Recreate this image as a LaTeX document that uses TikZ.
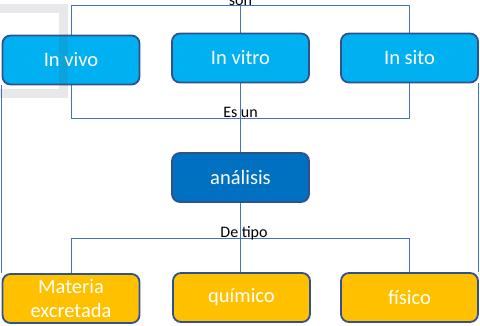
\documentclass[tikz,border=0pt]{standalone}
\usepackage{fontspec}
\setmainfont{Carlito}
\usetikzlibrary{backgrounds}
\definecolor{boxborder}{HTML}{2F528F}
\definecolor{topfill}{HTML}{00B0F0}
\definecolor{midfill}{HTML}{0070C0}
\definecolor{botfill}{HTML}{FFC000}
\definecolor{linkblue}{HTML}{4472C4}
\definecolor{framegray}{HTML}{5A5A6E}
\tikzset{
  x=1pt, y=-1pt,
  box/.style={draw=boxborder, line width=1.8pt, rounded corners=8pt,
    minimum width=137pt, minimum height=49pt, text=white,
    font=\fontsize{20.5}{24}\selectfont, align=center, inner sep=0pt},
  topbox/.style={box, fill=topfill},
  midbox/.style={box, fill=midfill},
  botbox/.style={box, fill=botfill},
  link/.style={draw=linkblue, line width=0.9pt},
  lbl/.style={font=\fontsize{16}{18}\selectfont, text=black, anchor=base, inner sep=0pt}
}
\begin{document}
\begin{tikzpicture}
\useasboundingbox (0,0) rectangle (480,325);
% nodes
\node[topbox] (vivo) at (71,60) {In vivo};
\node[topbox] (vitro) at (240.5,58) {In vitro};
\node[topbox] (sito) at (409.5,58) {In sito};
\node[midbox] (analisis) at (240.5,177.5) {análisis};
\node[botbox] (materia) at (71,298.5) {Materia\\excretada};
\node[botbox] (quimico) at (241.5,297.5) {químico};
\node[botbox] (fisico) at (409.5,297.5) {físico};
% junction points
\coordinate (son) at (240.5,5);
\coordinate (esun) at (240.5,118);
\coordinate (detipo) at (240.5,238);
% connectors behind the boxes
\begin{scope}[on background layer]
\draw[link] (vitro.north) -- (son);
\draw[link] (son) -| (vivo.north);
\draw[link] (son) -| (sito.north);
\draw[link] (vivo.south) |- (esun);
\draw[link] (sito.south) |- (esun);
\draw[link] (vitro.south) -- (analisis.north);
\draw[link] (analisis.south) -- (analisis.south |- quimico.north);
\draw[link] (detipo) -| (materia.north);
\draw[link] (detipo) -| (fisico.north);
\draw[link] (vivo.south west) -- (materia.north west);
\draw[link] (sito.south east) -- (fisico.north east);
\end{scope}
% labels
\node[lbl] (lson) at (240.5,5) {son};
\node[lbl] (lesun) at (240.5,117) {Es un};
\node[lbl] (ldetipo) at (244,237) {De tipo};
% translucent gray frame on top
\draw[draw=framegray, draw opacity=0.14, line width=9pt] (-10,8.5) rectangle (63.5,93.5);
\end{tikzpicture}
\end{document}
